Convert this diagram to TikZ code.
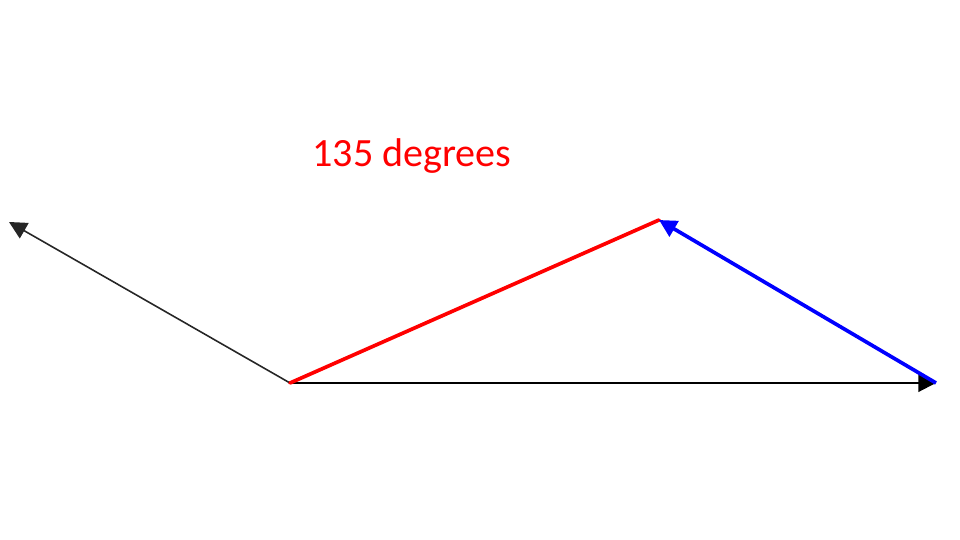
\documentclass[tikz,border=0pt]{standalone}
\usepackage{fontspec}
\setmainfont{Carlito}
\usetikzlibrary{arrows.meta}
\tikzset{vec/.style={-{Triangle[length=5pt,width=5pt]}}}
\begin{document}
\begin{tikzpicture}[x=0.01cm,y=-0.01cm]
        \useasboundingbox (0,0) rectangle (960,540);
        % points
        \coordinate (origin) at (290,383);
        \coordinate (left) at (9,222);
        \coordinate (top) at (659,220);
        \coordinate (right) at (936,383);
        % vectors
        \draw[vec, line width=0.45pt, black!85] (origin) -- (left);
        \draw[vec, line width=0.6pt] (origin) -- (right);
        \draw[red, line width=1.05pt, line cap=round] (origin) -- (top);
        \draw[vec, blue, line width=1.05pt] (right) -- (top);
        % label
        \node[red, font=\fontsize{11.4}{13}\selectfont] (angle) at (412,156) {135 degrees};
    \end{tikzpicture}
\end{document}
